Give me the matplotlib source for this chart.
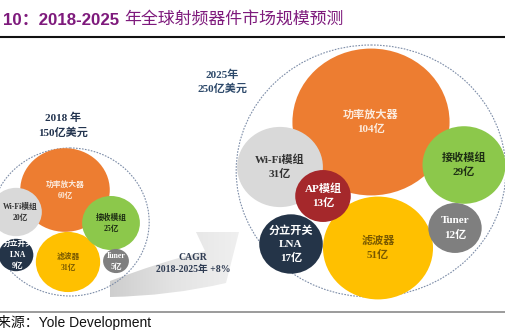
import matplotlib.pyplot as plt
import numpy as np
from matplotlib.patches import Ellipse, PathPatch
from matplotlib.path import Path
from matplotlib.colors import LinearSegmentedColormap

# market size by segment, 亿美元
segments = ['功率放大器', 'Wi-Fi模组', 'AP模组', '分立开关\nLNA', '滤波器', '接收模组', 'Tuner']
values_2018 = [60, 20, None, 9, 31, 25, 5]
values_2025 = [104, 31, 13, 17, 51, 29, 12]
years = ['2018 年', '2025年']
totals = [150, 250]
cagr = '+8%'

colors = ['#ED7D31', '#D9D9D9', '#A5282B', '#243448', '#FFC000', '#8CC84B', '#7F7F7F']
text_colors = ['#FCEBDD', '#333333', '#FFFFFF', '#FFFFFF', '#7A5A00', '#1E2E14', '#FFFFFF']

# bubble centres in pixel space, plus label nudges for bubbles at the left edge
centers_2018 = [(65, 190), (16, 212), None, (16, 255), (68, 262), (111, 223), (116, 261)]
centers_2025 = [(371, 122), (280, 167), (323, 196), (291, 244), (378, 248), (464, 165), (455, 228)]
label_dx_2018 = [0, 4, 0, 2, 0, 0, 0]
label_dx_2025 = [0] * 7
draw_order = [0, 1, 3, 4, 5, 6, 2]

SX = 1.07  # horizontal stretch of the bubbles
LBL = ['Liberation Serif', 'Noto Sans CJK SC']

fig = plt.figure(figsize=(5.05, 3.34), dpi=100)
ax = fig.add_axes([0, 0, 1, 1])


def bubble_group(values, centers, dxs, k, fs, outer_c, outer_r):
    ax.add_patch(Ellipse(outer_c, 2 * outer_r * SX, 2 * outer_r, fill=False,
                         ec='#7D8DA8', lw=0.8, ls=(0, (1.5, 1.2)), zorder=1.5))
    for i in draw_order:
        v = values[i]
        if v is None:
            continue
        r = k * np.sqrt(v)
        cx, cy = centers[i]
        ax.add_patch(Ellipse((cx, cy), 2 * r * SX, 2 * r, fc=colors[i], ec='none',
                             zorder=2 + draw_order.index(i)))
        ax.text(cx + dxs[i], cy, f'{segments[i]}\n{v}亿', ha='center', va='center', fontsize=fs,
                color=text_colors[i], family=LBL, weight='bold', linespacing=1.5,
                zorder=20)


# growth arrow with grey gradient
verts = [(110, 297), (170, 296), (226, 283), (239, 232), (196, 232), (205, 251),
         (160, 262), (110, 281), (110, 297)]
codes = [Path.MOVETO, Path.CURVE3, Path.CURVE3, Path.LINETO, Path.LINETO, Path.LINETO,
         Path.CURVE3, Path.CURVE3, Path.CLOSEPOLY]
arrow = PathPatch(Path(verts, codes), fc='none', ec='none', zorder=1)
ax.add_patch(arrow)
grad = LinearSegmentedColormap.from_list('g', ['#CDCDCD', '#E4E4E4', '#F0F0F0'])
im = ax.imshow(np.tile(np.linspace(0, 1, 256), (2, 1)), cmap=grad, aspect='auto',
               extent=[108, 242, 300, 228], zorder=1)
im.set_clip_path(arrow)
ax.text(193, 257, 'CAGR', ha='center', va='center', fontsize=7, color='#2E3B52',
        family=LBL, weight='bold', zorder=20)
ax.text(193, 269, f'2018-2025年 {cagr}', ha='center', va='center', fontsize=7,
        color='#2E3B52', family=LBL, weight='bold', zorder=20)

bubble_group(values_2018, centers_2018, label_dx_2018, 5.4, 5.6, (70, 222), 74)
bubble_group(values_2025, centers_2025, label_dx_2025, 7.2, 8, (371, 171), 126)

# year / total labels
ax.text(63, 118, years[0], ha='center', va='center', fontsize=8, color='#23344F',
        family=LBL, weight='bold')
ax.text(63, 133, f'{totals[0]}亿美元', ha='center', va='center', fontsize=8,
        color='#23344F', family=LBL, weight='bold')
ax.text(222, 75, years[1], ha='center', va='center', fontsize=8, color='#2E4A6B',
        family=LBL, weight='bold')
ax.text(222, 89, f'{totals[1]}亿美元', ha='center', va='center', fontsize=8,
        color='#2E4A6B', family=LBL, weight='bold')

# title and source
t1 = ax.text(3, 20, '10：2018-2025 ', ha='left', va='center', fontsize=12.2, color='#7E1A7C',
             family=['Liberation Sans', 'Noto Sans CJK SC'], weight='bold')
ax.annotate('年全球射频器件市场规模预测', xy=(1, 0.5), xycoords=t1, ha='left', va='center',
            fontsize=12.2, color='#7E1A7C', family=['Noto Sans CJK SC'], weight='medium')
ax.axhline(37, color='#111111', lw=1.5)
ax.axhline(311.5, color='#8A8A8A', lw=1.2)
ax.text(-3, 323, '来源：Yole Development', ha='left', va='center', fontsize=10, color='#111111',
        family=['Liberation Sans', 'Noto Sans CJK SC'])

ax.set_xlim(0, 505)
ax.set_ylim(334, 0)
ax.axis('off')
fig.savefig('out.png', dpi=100)
